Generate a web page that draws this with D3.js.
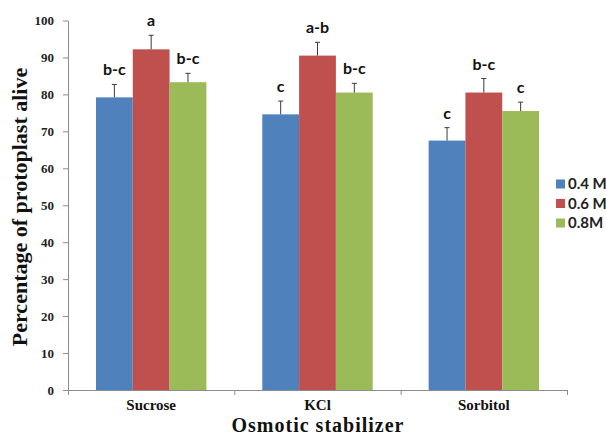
<!DOCTYPE html>
<html>
<head>
<meta charset="utf-8">
<script src="https://cdn.jsdelivr.net/npm/d3@7"></script>
<style>
  html, body { margin: 0; padding: 0; background: #fff; }
  svg { display: block; }
</style>
</head>
<body>
<script>
const categories = ["Sucrose", "KCl", "Sorbitol"];
const seriesNames = ["0.4 M", "0.6 M", "0.8M"];
const values = [
  [79.2, 92.2, 83.3],
  [74.6, 90.5, 80.5],
  [67.5, 80.5, 75.5]
];
const errors = [
  [3.5, 3.8, 2.4],
  [3.6, 3.6, 2.5],
  [3.5, 3.8, 2.4]
];
const letters = [
  ["b-c", "a", "b-c"],
  ["c", "a-b", "b-c"],
  ["c", "b-c", "c"]
];
const yTicks = [0, 10, 20, 30, 40, 50, 60, 70, 80, 90, 100];
const colors = ["#4F81BD", "#C0504D", "#9BBB59"];

const W = 606, H = 436;
const svg = d3.select("body").append("svg").attr("width", W).attr("height", H);

const x0 = d3.scaleBand().domain(categories).range([68, 567]).paddingInner(0).paddingOuter(0);
const x1 = d3.scaleBand().domain(seriesNames).range([0, x0.bandwidth()]).paddingInner(0).paddingOuter(0.76);
const y = d3.scaleLinear().domain([0, 100]).range([390, 20.5]);
const color = d3.scaleOrdinal().domain(seriesNames).range(colors);

const axisColor = "#8c8c8c";
const serif = "'Liberation Serif', 'Times New Roman', serif";
const sans = "Lato, 'Liberation Sans', sans-serif";

// bars
const groups = svg.append("g").selectAll("g").data(categories).join("g")
  .attr("transform", c => `translate(${x0(c)},0)`);

const flat = [];
categories.forEach((c, i) => seriesNames.forEach((s, j) => {
  flat.push({ c, s, v: values[i][j], e: errors[i][j], l: letters[i][j] });
}));

groups.selectAll("rect").data(c => flat.filter(d => d.c === c)).join("rect")
  .attr("x", d => x1(d.s))
  .attr("width", x1.bandwidth())
  .attr("y", d => y(d.v))
  .attr("height", d => y(0) - y(d.v))
  .attr("fill", d => color(d.s));

// error bars
const eb = groups.selectAll("g.err").data(c => flat.filter(d => d.c === c)).join("g").attr("class", "err");
eb.append("line")
  .attr("x1", d => x1(d.s) + x1.bandwidth() / 2)
  .attr("x2", d => x1(d.s) + x1.bandwidth() / 2)
  .attr("y1", d => y(d.v))
  .attr("y2", d => y(d.v + d.e))
  .attr("stroke", "#3a3a3a").attr("stroke-width", 1);
eb.append("line")
  .attr("x1", d => x1(d.s) + x1.bandwidth() / 2 - 2.5)
  .attr("x2", d => x1(d.s) + x1.bandwidth() / 2 + 2.5)
  .attr("y1", d => y(d.v + d.e))
  .attr("y2", d => y(d.v + d.e))
  .attr("stroke", "#3a3a3a").attr("stroke-width", 1);

// significance letters
groups.selectAll("text.sig").data(c => flat.filter(d => d.c === c)).join("text")
  .attr("class", "sig")
  .attr("x", d => x1(d.s) + x1.bandwidth() / 2)
  .attr("y", d => y(d.v + d.e) - 9)
  .attr("text-anchor", "middle")
  .attr("font-family", sans).attr("font-weight", "bold").attr("font-size", 16)
  .attr("fill", "#111")
  .text(d => d.l);

// y axis
const yAxis = svg.append("g").attr("transform", "translate(68,0)")
  .call(d3.axisLeft(y).tickValues(yTicks).tickSize(5).tickSizeOuter(0).tickPadding(9));
yAxis.select(".domain").attr("stroke", axisColor);
yAxis.selectAll(".tick line").attr("stroke", axisColor);
yAxis.selectAll(".tick text")
  .attr("font-family", serif).attr("font-weight", "bold").attr("font-size", 13).attr("fill", "#222");

// x axis with ticks at category boundaries
const xb = d3.scaleLinear().domain([0, categories.length]).range(x0.range());
const xAxis = svg.append("g").attr("transform", "translate(0,390)")
  .call(d3.axisBottom(xb).tickValues(d3.range(categories.length + 1)).tickFormat("").tickSize(5).tickSizeOuter(0));
xAxis.select(".domain").attr("stroke", axisColor);
xAxis.selectAll(".tick line").attr("stroke", axisColor);

svg.append("g").selectAll("text").data(categories).join("text")
  .attr("x", c => x0(c) + x0.bandwidth() / 2)
  .attr("y", 410)
  .attr("text-anchor", "middle")
  .attr("font-family", serif).attr("font-weight", "bold").attr("font-size", 15)
  .attr("fill", "#111")
  .text(c => c);

// axis titles
svg.append("text")
  .attr("x", 318).attr("y", 431.5)
  .attr("text-anchor", "middle")
  .attr("font-family", serif).attr("font-weight", "bold").attr("font-size", 20)
  .attr("letter-spacing", 1)
  .attr("fill", "#111")
  .text("Osmotic stabilizer");

svg.append("text")
  .attr("transform", "translate(27,207) rotate(-90)")
  .attr("text-anchor", "middle")
  .attr("font-family", serif).attr("font-weight", "bold").attr("font-size", 22)
  .attr("fill", "#111")
  .text("Percentage of protoplast alive");

// legend
const leg = svg.append("g").selectAll("g").data(seriesNames).join("g")
  .attr("transform", (d, i) => `translate(556,${184 + i * 19.5})`);
leg.append("rect").attr("x", 0).attr("y", -4.5).attr("width", 9).attr("height", 9).attr("fill", d => color(d));
leg.append("text").attr("x", 12).attr("y", 5)
  .attr("font-family", sans).attr("font-weight", "bold").attr("font-size", 15)
  .attr("fill", "#222")
  .text(d => d);
</script>
</body>
</html>
